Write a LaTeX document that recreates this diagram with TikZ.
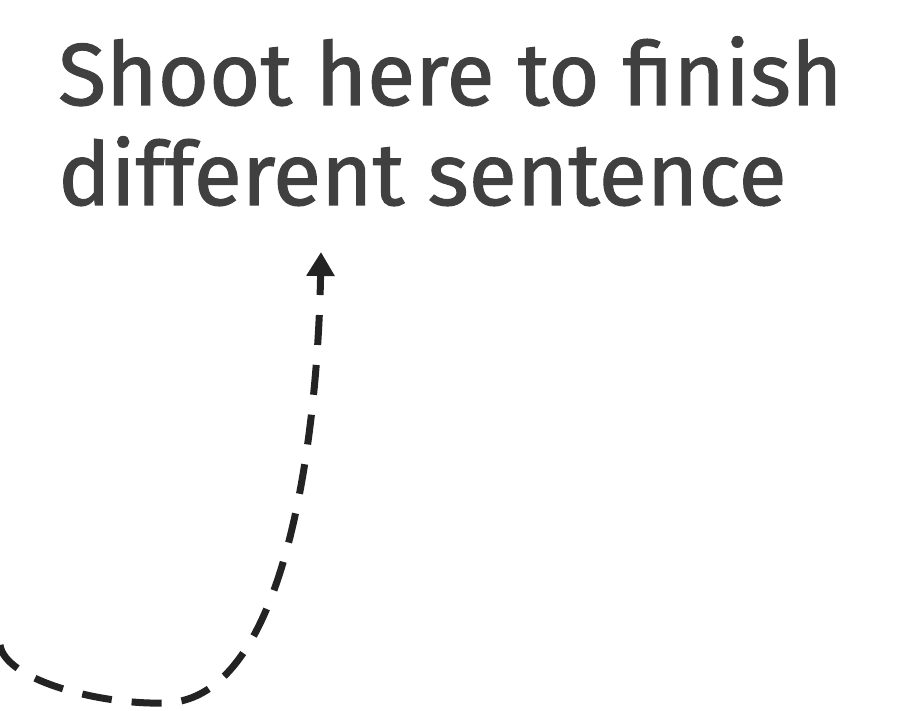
\documentclass[tikz,border=0pt]{standalone}
\usepackage{fontspec}
\newfontfamily\shotfont{Fira Sans}[FakeBold=1.2]
\usetikzlibrary{arrows.meta, positioning}
\definecolor{textgray}{HTML}{404040}
\definecolor{linegray}{HTML}{232323}

\begin{document}
\begin{tikzpicture}[
    x=1pt, y=-1pt,
    label/.style={anchor=base west, inner sep=0pt, text=textgray, font=\shotfont\fontsize{88}{100}\selectfont},
    shot/.style={draw=linegray, line width=7pt, dash pattern=on 30pt off 20pt, -{Triangle[length=24pt, width=27pt]}}
]
\useasboundingbox (0,0) rectangle (922,711);

\node [label] (first) at (58,105) {Shoot here to finish};
\node [label] (second) at (58,205) {different sentence};

\coordinate (start) at (0,645);
\coordinate (bottom) at (165,703);
\coordinate (target) at (321,252);

\draw [shot] (start) .. controls (5,680) and (100,705) .. (bottom)
    .. controls (290,700) and (318,420) .. (target);

\end{tikzpicture}
\end{document}
